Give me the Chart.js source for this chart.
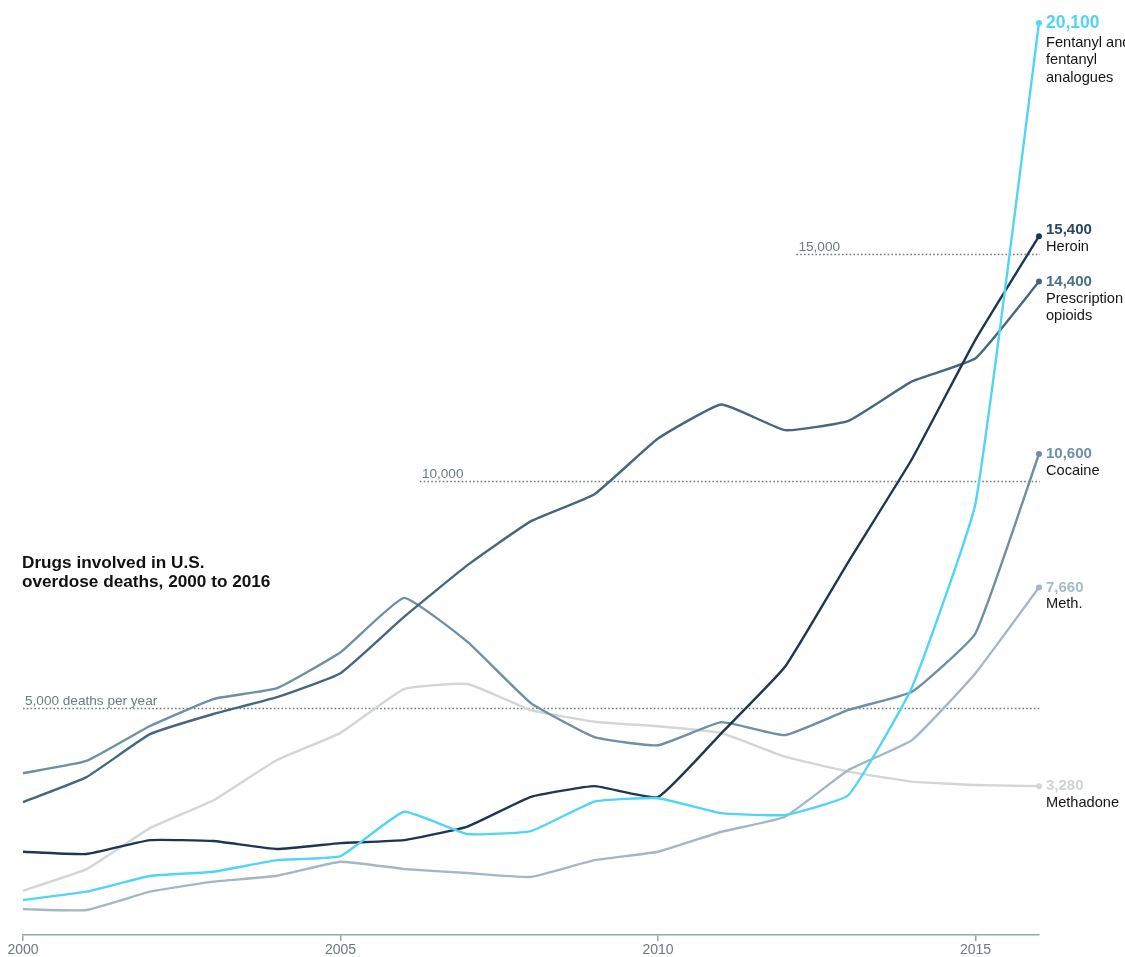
<!DOCTYPE html>
<html>
<head>
<meta charset="utf-8">
<title>Drugs involved in U.S. overdose deaths, 2000 to 2016</title>
<script src="https://cdn.jsdelivr.net/npm/chart.js@4.4.1/dist/chart.umd.min.js"></script>
<style>
  html, body { margin: 0; padding: 0; background: #fff; }
  #chart { display: block; }
</style>
</head>
<body>
<canvas id="chart" width="1125" height="957"></canvas>
<script>
// Data (deaths per year)
const years = [2000, 2001, 2002, 2003, 2004, 2005, 2006, 2007, 2008, 2009, 2010, 2011, 2012, 2013, 2014, 2015, 2016];
const fentanyl =     [770, 955, 1300, 1395, 1650, 1740, 2715, 2225, 2290, 2940, 3015, 2685, 2645, 3085, 5460, 9510, 20100];
const heroin =       [1835, 1785, 2090, 2070, 1895, 2025, 2090, 2390, 3045, 3280, 3040, 4450, 5910, 8230, 10490, 13120, 15400];
const prescription = [2930, 3480, 4425, 4870, 5240, 5770, 7010, 8150, 9120, 9715, 10940, 11690, 11125, 11330, 12200, 12710, 14400];
const cocaine =      [3565, 3835, 4605, 5200, 5440, 6230, 7430, 6460, 5110, 4360, 4180, 4690, 4405, 4960, 5360, 6650, 10600];
const meth =         [570, 550, 955, 1175, 1305, 1615, 1455, 1365, 1280, 1650, 1835, 2275, 2605, 3635, 4295, 5770, 7660];
const methadone =    [975, 1450, 2355, 2970, 3855, 4455, 5420, 5530, 4955, 4700, 4600, 4450, 3930, 3600, 3380, 3305, 3280];

const seriesNames = [
  ["Fentanyl and", "fentanyl", "analogues"],
  ["Heroin"],
  ["Prescription", "opioids"],
  ["Cocaine"],
  ["Meth."],
  ["Methadone"],
];
const seriesColors = ["#50d6f4", "#1e3654", "#46677f", "#6f8fa3", "#a5b7c3", "#d2d6d5"];
const valueColors =  ["#4fd5f4", "#2b4565", "#4d6e88", "#6e90a6", "#a6bac7", "#cfd4d4"];
const seriesValues = [fentanyl, heroin, prescription, cocaine, meth, methadone];

const tickYears = [2000, 2005, 2010, 2015];
const refValues = [5000, 10000, 15000];
const refLabels = ["5,000 deaths per year", "10,000", "15,000"];
const refStartYears = [2000, 2006.25, 2012.18];

const FONT = "'Liberation Sans', Arial, Helvetica, sans-serif";

// dotted reference lines with labels
const refLinesPlugin = {
  id: "refLines",
  beforeDatasetsDraw(chart) {
    const { ctx, chartArea, scales } = chart;
    ctx.save();
    refValues.forEach((v, i) => {
      const y = Math.round(scales.y.getPixelForValue(v)) + 0.5;
      const x0 = scales.x.getPixelForValue(refStartYears[i]);
      ctx.beginPath();
      ctx.setLineDash([1.6, 2.2]);
      ctx.lineWidth = 1.6;
      ctx.strokeStyle = "#6f7b7e";
      ctx.moveTo(x0, y);
      ctx.lineTo(chartArea.right + 1, y);
      ctx.stroke();
      ctx.setLineDash([]);
      ctx.font = "13.6px " + FONT;
      ctx.fillStyle = "#6d7b7e";
      ctx.textAlign = "left";
      ctx.textBaseline = "alphabetic";
      ctx.fillText(refLabels[i], x0 + 2, y - 4);
    });
    ctx.restore();
  },
};

// values and names at the end of each line, plus the title
const endLabelsPlugin = {
  id: "endLabels",
  afterDatasetsDraw(chart) {
    const { ctx, chartArea, scales } = chart;
    const shifts = [0, -6, 0, 0, 0, 0];
    ctx.save();
    ctx.textAlign = "left";
    ctx.textBaseline = "middle";
    seriesValues.forEach((vals, i) => {
      const last = vals[vals.length - 1];
      const y = scales.y.getPixelForValue(last) + shifts[i];
      const x = chartArea.right + 7;
      ctx.font = "bold " + (i === 0 ? 17.5 : 15) + "px " + FONT;
      ctx.fillStyle = valueColors[i];
      ctx.fillText(last.toLocaleString("en-US"), x, y);
      ctx.font = "14.6px " + FONT;
      ctx.fillStyle = "#151515";
      seriesNames[i].forEach((line, j) => {
        ctx.fillText(line, x, y + (i === 0 ? 20 : 17) + j * 17.5);
      });
    });

    ctx.font = "bold 17.2px " + FONT;
    ctx.fillStyle = "#111";
    ctx.fillText("Drugs involved in U.S.", 22, 563);
    ctx.fillText("overdose deaths, 2000 to 2016", 22, 582);
    ctx.restore();
  },
};

const datasets = seriesValues.map((vals, i) => ({
  label: seriesNames[i].join(" "),
  data: years.map((yr, k) => ({ x: yr, y: vals[k] })),
  borderColor: seriesColors[i],
  backgroundColor: seriesColors[i],
  borderWidth: 2.4,
  tension: 0.12,
  pointRadius: (c) => (c.dataIndex === years.length - 1 ? 3 : 0),
  pointHoverRadius: 0,
  pointBorderWidth: 0,
  clip: false,
}));

new Chart(document.getElementById("chart"), {
  type: "line",
  data: { datasets: datasets },
  options: {
    responsive: false,
    animation: false,
    layout: { padding: { left: 23, right: 86, top: 7, bottom: 0 } },
    plugins: {
      legend: { display: false },
      tooltip: { enabled: false },
    },
    scales: {
      x: {
        type: "linear",
        min: 2000,
        max: 2016,
        afterBuildTicks: (scale) => {
          scale.ticks = tickYears.map((v) => ({ value: v }));
        },
        afterFit: (scale) => {
          scale.height = 22;
        },
        grid: {
          drawOnChartArea: false,
          drawTicks: true,
          tickLength: 6,
          color: "#9aa5a8",
          lineWidth: 1.5,
        },
        border: { display: true, color: "#9aa5a8", width: 1.5 },
        ticks: {
          padding: 1,
          color: "#6a797c",
          font: { family: FONT, size: 14 },
          callback: (v) => String(v),
          maxRotation: 0,
        },
      },
      y: {
        display: false,
        min: 0,
        max: 20450,
      },
    },
  },
  plugins: [refLinesPlugin, endLabelsPlugin],
});
</script>
</body>
</html>
